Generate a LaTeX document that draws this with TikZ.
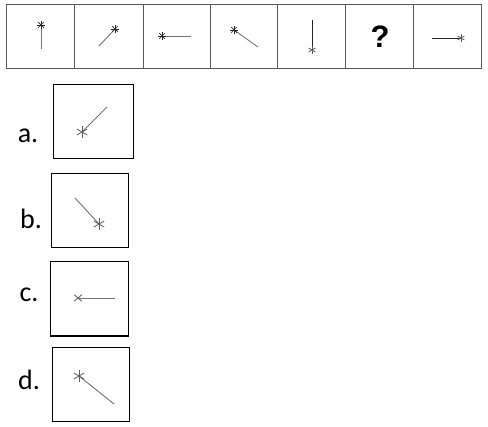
\documentclass[tikz,border=0pt]{standalone}
\usepackage{fontspec}
\setmainfont{Carlito}
\newfontfamily\qfont{Liberation Sans}
\begin{document}
\begin{tikzpicture}[x=1pt,y=-1pt,
  cell/.style={draw=black!65,line width=0.8pt},
  optbox/.style={draw=black,line width=0.95pt},
  fig/.style={draw=black!55,line width=0.9pt},
  figdark/.style={draw=black!85,line width=0.9pt},
  lab/.style={font=\fontsize{28}{30}\selectfont,anchor=center,inner sep=0pt},
  pics/astar/.style={code={
    \foreach \a in {0,45,90,135}{\draw[figdark,line width=0.7pt] (\a:#1pt) -- (\a+180:#1pt);}}},
  pics/hstar/.style={code={
    \foreach \a in {30,90,150}{\draw[draw=black!65,line width=0.8pt] (\a:#1pt) -- (\a+180:#1pt);}}},
  pics/xstar/.style={code={
    \foreach \a in {40,140}{\draw[draw=black!65,line width=0.8pt] (\a:#1pt) -- (\a+180:#1pt);}}}
]
\useasboundingbox (0,0) rectangle (488,427);
% top row
\draw[cell] (6,4) rectangle (481,68);
\foreach \xx in {74,143,210,277,345,413}{\draw[cell] (\xx,4) -- (\xx,68);}
% cell 1
\coordinate (c1s) at (41,25); \coordinate (c1e) at (41,49);
\draw[fig] (c1s) -- (c1e); \pic at (c1s) {astar=4};
% cell 2
\coordinate (c2s) at (115,29); \coordinate (c2e) at (99,46);
\draw[fig] (c2s) -- (c2e); \pic at (c2s) {astar=4};
% cell 3
\coordinate (c3s) at (162,36); \coordinate (c3e) at (191,36);
\draw[fig] (c3s) -- (c3e); \pic at (c3s) {astar=4};
% cell 4
\coordinate (c4s) at (234,30); \coordinate (c4e) at (258,47);
\draw[fig] (c4s) -- (c4e); \pic at (c4s) {astar=4};
% cell 5
\coordinate (c5s) at (312,50); \coordinate (c5e) at (312,20);
\draw[figdark] (c5s) -- (c5e); \pic at (c5s) {hstar=4};
% cell 6
\node[inner sep=0pt] (q) at (380,37) {\qfont\bfseries\fontsize{31}{33}\selectfont ?};
% cell 7
\coordinate (c7s) at (461,38); \coordinate (c7e) at (432,38);
\draw[figdark] (c7s) -- (c7e); \pic at (c7s) {hstar=4};
% option a
\node[lab] (la) at (28,136) {a.};
\draw[optbox] (53,84) rectangle (133,158);
\coordinate (as) at (82,132); \coordinate (ae) at (107,107);
\draw[fig] (as) -- (ae); \pic at (as) {hstar=6};
% option b
\node[lab] (lb) at (31,219) {b.};
\draw[optbox] (51,173) rectangle (128,247);
\coordinate (bs) at (99,224); \coordinate (be) at (75,198);
\draw[fig] (bs) -- (be); \pic at (bs) {hstar=6};
% option c
\node[lab] (lc) at (29,295) {c.};
\draw[optbox] (50,261) rectangle (128,336);
\draw[black,line width=1.6pt] (50,336) -- (128,336);
\coordinate (cs) at (78,298); \coordinate (ce) at (115,298);
\draw[fig] (cs) -- (ce); \pic at (cs) {xstar=5};
% option d
\node[lab] (ld) at (29,380) {d.};
\draw[optbox] (52,347) rectangle (129,421);
\coordinate (ds) at (79,376); \coordinate (de) at (114,404);
\draw[fig] (ds) -- (de); \pic at (ds) {hstar=6};
\end{tikzpicture}
\end{document}
